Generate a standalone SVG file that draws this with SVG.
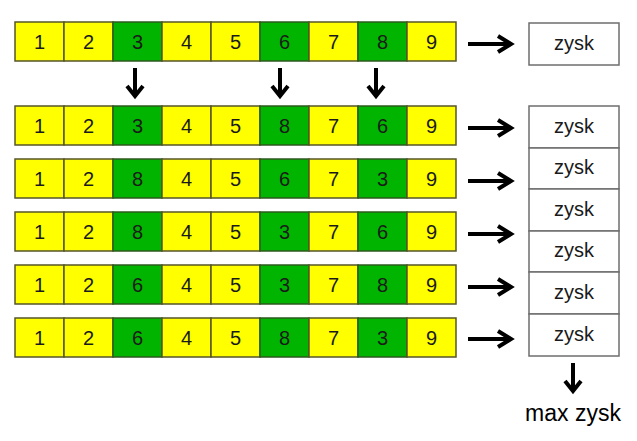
<svg xmlns="http://www.w3.org/2000/svg" width="637" height="441" viewBox="0 0 637 441">
<style>
.y{fill:#FFFF00;stroke:#55552a;stroke-width:1.5}
.g{fill:#00B400;stroke:#2e5a1e;stroke-width:1.5}
.t{font-family:"Liberation Sans",Arial,sans-serif;font-size:20px;text-anchor:middle;fill:#1a1a1a}
.b{fill:#fff;stroke:#6e6e6e;stroke-width:1.5}
.a{fill:none;stroke:#000;stroke-width:4;stroke-linecap:butt;stroke-linejoin:miter}
</style>
<rect width="637" height="441" fill="#fff"/>
<g id="row1">
<rect class="y" x="15" y="22" width="49" height="39"/><rect class="y" x="64" y="22" width="49" height="39"/><rect class="g" x="113" y="22" width="49" height="39"/><rect class="y" x="162" y="22" width="49" height="39"/><rect class="y" x="211" y="22" width="49" height="39"/><rect class="g" x="260" y="22" width="49" height="39"/><rect class="y" x="309" y="22" width="49" height="39"/><rect class="g" x="358" y="22" width="49" height="39"/><rect class="y" x="407" y="22" width="49" height="39"/>
<text class="t" y="49"><tspan x="39.5">1</tspan><tspan x="88.5">2</tspan><tspan x="137.5">3</tspan><tspan x="186.5">4</tspan><tspan x="235.5">5</tspan><tspan x="284.5">6</tspan><tspan x="333.5">7</tspan><tspan x="382.5">8</tspan><tspan x="431.5">9</tspan></text>
</g>
<g id="row2">
<rect class="y" x="15" y="106" width="49" height="39"/><rect class="y" x="64" y="106" width="49" height="39"/><rect class="g" x="113" y="106" width="49" height="39"/><rect class="y" x="162" y="106" width="49" height="39"/><rect class="y" x="211" y="106" width="49" height="39"/><rect class="g" x="260" y="106" width="49" height="39"/><rect class="y" x="309" y="106" width="49" height="39"/><rect class="g" x="358" y="106" width="49" height="39"/><rect class="y" x="407" y="106" width="49" height="39"/>
<text class="t" y="133"><tspan x="39.5">1</tspan><tspan x="88.5">2</tspan><tspan x="137.5">3</tspan><tspan x="186.5">4</tspan><tspan x="235.5">5</tspan><tspan x="284.5">8</tspan><tspan x="333.5">7</tspan><tspan x="382.5">6</tspan><tspan x="431.5">9</tspan></text>
</g>
<g id="row3">
<rect class="y" x="15" y="159" width="49" height="39"/><rect class="y" x="64" y="159" width="49" height="39"/><rect class="g" x="113" y="159" width="49" height="39"/><rect class="y" x="162" y="159" width="49" height="39"/><rect class="y" x="211" y="159" width="49" height="39"/><rect class="g" x="260" y="159" width="49" height="39"/><rect class="y" x="309" y="159" width="49" height="39"/><rect class="g" x="358" y="159" width="49" height="39"/><rect class="y" x="407" y="159" width="49" height="39"/>
<text class="t" y="186"><tspan x="39.5">1</tspan><tspan x="88.5">2</tspan><tspan x="137.5">8</tspan><tspan x="186.5">4</tspan><tspan x="235.5">5</tspan><tspan x="284.5">6</tspan><tspan x="333.5">7</tspan><tspan x="382.5">3</tspan><tspan x="431.5">9</tspan></text>
</g>
<g id="row4">
<rect class="y" x="15" y="212" width="49" height="39"/><rect class="y" x="64" y="212" width="49" height="39"/><rect class="g" x="113" y="212" width="49" height="39"/><rect class="y" x="162" y="212" width="49" height="39"/><rect class="y" x="211" y="212" width="49" height="39"/><rect class="g" x="260" y="212" width="49" height="39"/><rect class="y" x="309" y="212" width="49" height="39"/><rect class="g" x="358" y="212" width="49" height="39"/><rect class="y" x="407" y="212" width="49" height="39"/>
<text class="t" y="239"><tspan x="39.5">1</tspan><tspan x="88.5">2</tspan><tspan x="137.5">8</tspan><tspan x="186.5">4</tspan><tspan x="235.5">5</tspan><tspan x="284.5">3</tspan><tspan x="333.5">7</tspan><tspan x="382.5">6</tspan><tspan x="431.5">9</tspan></text>
</g>
<g id="row5">
<rect class="y" x="15" y="265" width="49" height="39"/><rect class="y" x="64" y="265" width="49" height="39"/><rect class="g" x="113" y="265" width="49" height="39"/><rect class="y" x="162" y="265" width="49" height="39"/><rect class="y" x="211" y="265" width="49" height="39"/><rect class="g" x="260" y="265" width="49" height="39"/><rect class="y" x="309" y="265" width="49" height="39"/><rect class="g" x="358" y="265" width="49" height="39"/><rect class="y" x="407" y="265" width="49" height="39"/>
<text class="t" y="292"><tspan x="39.5">1</tspan><tspan x="88.5">2</tspan><tspan x="137.5">6</tspan><tspan x="186.5">4</tspan><tspan x="235.5">5</tspan><tspan x="284.5">3</tspan><tspan x="333.5">7</tspan><tspan x="382.5">8</tspan><tspan x="431.5">9</tspan></text>
</g>
<g id="row6">
<rect class="y" x="15" y="318" width="49" height="39"/><rect class="y" x="64" y="318" width="49" height="39"/><rect class="g" x="113" y="318" width="49" height="39"/><rect class="y" x="162" y="318" width="49" height="39"/><rect class="y" x="211" y="318" width="49" height="39"/><rect class="g" x="260" y="318" width="49" height="39"/><rect class="y" x="309" y="318" width="49" height="39"/><rect class="g" x="358" y="318" width="49" height="39"/><rect class="y" x="407" y="318" width="49" height="39"/>
<text class="t" y="345"><tspan x="39.5">1</tspan><tspan x="88.5">2</tspan><tspan x="137.5">6</tspan><tspan x="186.5">4</tspan><tspan x="235.5">5</tspan><tspan x="284.5">8</tspan><tspan x="333.5">7</tspan><tspan x="382.5">3</tspan><tspan x="431.5">9</tspan></text>
</g>
<g id="zysk0"><rect class="b" x="529" y="23" width="90" height="42"/><text class="t" x="574" y="50">zysk</text></g>
<g id="zysk1"><rect class="b" x="529" y="106" width="90" height="42"/><text class="t" x="574" y="133">zysk</text></g>
<g id="zysk2"><rect class="b" x="529" y="148" width="90" height="41"/><text class="t" x="574" y="174">zysk</text></g>
<g id="zysk3"><rect class="b" x="529" y="189" width="90" height="42"/><text class="t" x="574" y="216">zysk</text></g>
<g id="zysk4"><rect class="b" x="529" y="231" width="90" height="41"/><text class="t" x="574" y="257">zysk</text></g>
<g id="zysk5"><rect class="b" x="529" y="272" width="90" height="42"/><text class="t" x="574" y="299">zysk</text></g>
<g id="zysk6"><rect class="b" x="529" y="314" width="90" height="42"/><text class="t" x="574" y="341">zysk</text></g>
<g id="result"><text x="573" y="421" style="font-family:'Liberation Sans',Arial,sans-serif;font-size:23px;text-anchor:middle;fill:#000">max zysk</text></g>
<g id="connectors">
<path class="a" d="M135 68V95M127 86L135 96L143 86"/>
<path class="a" d="M280 68V95M272 86L280 96L288 86"/>
<path class="a" d="M376 68V95M368 86L376 96L384 86"/>
<path class="a" d="M468 44H511M498 36L511 44L498 52"/>
<path class="a" d="M468 128H511M498 120L511 128L498 136"/>
<path class="a" d="M468 181H511M498 173L511 181L498 189"/>
<path class="a" d="M468 234H511M498 226L511 234L498 242"/>
<path class="a" d="M468 287H511M498 279L511 287L498 295"/>
<path class="a" d="M468 339H511M498 331L511 339L498 347"/>
<path class="a" d="M573 363V390M565 381L573 391L581 381"/>
</g>
</svg>
